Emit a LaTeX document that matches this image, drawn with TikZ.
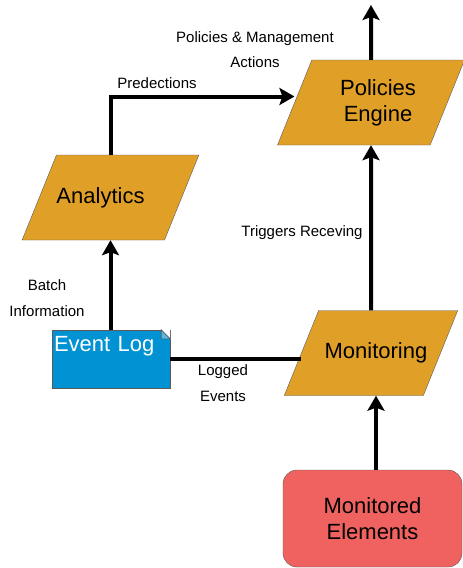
\documentclass[tikz,border=0pt]{standalone}
\usepackage{fontspec}
\setmainfont{Liberation Sans}
\usetikzlibrary{shapes.geometric, arrows.meta, positioning, calc}
\definecolor{procColor}{RGB}{224,160,40}
\definecolor{logColor}{RGB}{0,146,210}
\definecolor{elemColor}{RGB}{240,98,96}
\definecolor{edgeColor}{RGB}{90,90,90}

\begin{document}
\begin{tikzpicture}[
        x=1pt, y=-1pt,
        procbox/.style={trapezium, trapezium left angle=68, trapezium right angle=112, trapezium stretches body=true,
            draw=edgeColor, fill=procColor, minimum width=#1, inner sep=0pt, text height=48pt, text depth=37pt,
            align=center, font=\fontsize{22}{26}\selectfont},
        procbox/.default=173pt,
        logbox/.style={rectangle, draw=edgeColor, fill=logColor, text=white, inner xsep=2pt, inner ysep=0pt,
            text width=114pt, text height=21pt, text depth=37pt, align=left, font=\fontsize{22}{26}\selectfont},
        elembox/.style={rectangle, rounded corners=14pt, draw=edgeColor, fill=elemColor, minimum width=179pt,
            minimum height=97pt, align=center, font=\fontsize{22}{26}\selectfont},
        lbl/.style={align=center, font=\fontsize{15}{25.5}\selectfont},
        arrow/.style={-{Stealth[length=15pt, width=17pt, inset=3pt]}, line width=4pt},
        link/.style={line width=4pt}
    ]
        \useasboundingbox (0,0) rectangle (463,568);

        % Boxes
        \node[procbox=187pt, text height=61pt, text depth=24pt] (policies) at (371,102.5)
            {\hspace*{14pt}Policies\\\hspace*{14pt}Engine};
        \node[procbox] (analytics) at (110.5,197.5) {Analytics\hspace*{20pt}};
        \node[procbox=172pt, inner xsep=-4pt] (monitoring) at (371,353) {\hspace*{10pt}Monitoring};
        \node[logbox] (elog) at (111,359) {Event Log};
        \node[elembox] (elements) at (372.5,518.5) {Monitored\\Elements};

        % folded corner of the log
        \fill[white] ([xshift=-9pt]elog.north east) -- (elog.north east) -- ([yshift=-9pt]elog.north east) -- cycle;
        \draw[edgeColor, fill=logColor!65!white, line width=0.6pt] ([xshift=-9pt]elog.north east)
            -- ([xshift=-9pt, yshift=-9pt]elog.north east) -- ([yshift=-9pt]elog.north east) -- cycle;

        \coordinate (out) at (371,5);

        % Connectors
        \draw[arrow] (elements.north -| 376,0) -- (monitoring.south -| 376,0);
        \draw[arrow] (monitoring.north) -- (policies.south);
        \draw[arrow] (policies.north) -- (out);
        \draw[arrow] (elog.north -| analytics.north) -- (analytics.south);
        \draw[arrow] (analytics.north) |- ([yshift=6pt]policies.west);
        \draw[link] (elog.east) -- (elog.east -| monitoring.west);

        % Labels
        \node[lbl] (actlbl) at (255,49.5) {Policies \& Management\\Actions};
        \node[lbl] (predlbl) at (157,83) {Predections};
        \node[lbl] (triglbl) at (302,233) {Triggers Receving};
        \node[lbl] (batchlbl) at (47,298) {Batch\\Information};
        \node[lbl] (loglbl) at (223,383) {Logged\\Events};
\end{tikzpicture}
\end{document}
